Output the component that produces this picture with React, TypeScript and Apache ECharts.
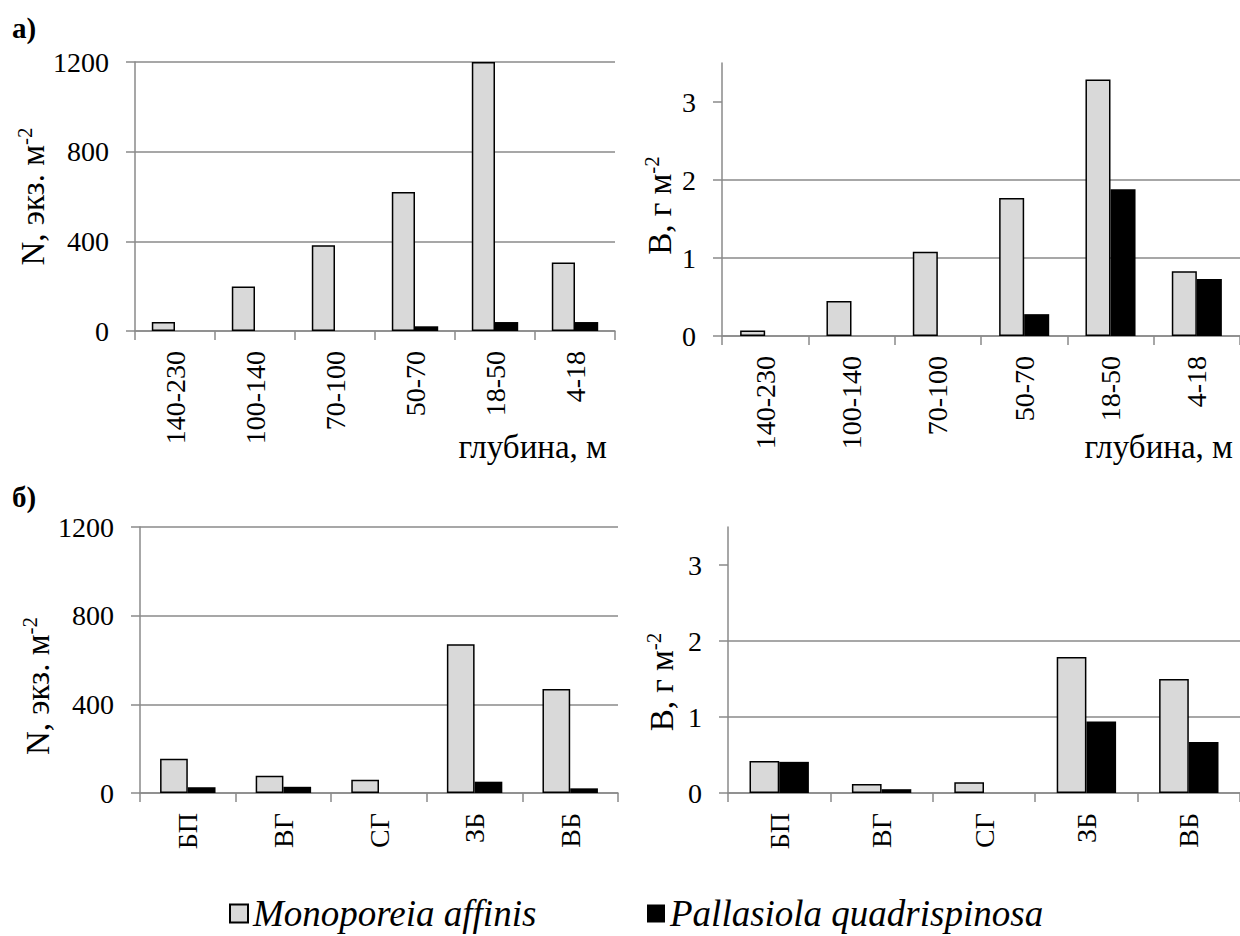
import React, { useEffect, useRef } from "react";
import * as echarts from "echarts";

const depthCategories = ["140-230", "100-140", "70-100", "50-70", "18-50", "4-18"];
const regionCategories = ["БП", "ВГ", "СГ", "ЗБ", "ВБ"];

const monoDepthN = [40, 198, 382, 620, 1200, 306];
const pallDepthN = [0, 0, 0, 21, 40, 40];
const monoDepthB = [0.07, 0.45, 1.08, 1.77, 3.29, 0.83];
const pallDepthB = [0, 0, 0, 0.28, 1.88, 0.73];

const monoRegionN = [155, 78, 60, 671, 469];
const pallRegionN = [26, 28, 0, 51, 21];
const monoRegionB = [0.42, 0.12, 0.14, 1.79, 1.5];
const pallRegionB = [0.41, 0.05, 0, 0.94, 0.67];

const nTickValues = [0, 400, 800, 1200];
const bTickValues = [0, 1, 2, 3];

const MONO = "Monoporeia affinis";
const PALL = "Pallasiola quadrispinosa";
const FONT = "Liberation Serif";
const GRID_COLOR = "#8a8a8a";

export default function App() {
  const ref = useRef<HTMLDivElement>(null);

  useEffect(() => {
    document.body.style.margin = "0";
    if (!ref.current) return;
    const chart = echarts.init(ref.current, null, { renderer: "svg" });

    const grids = [
      { left: 135, top: 62, width: 480, height: 269 },
      { left: 722, top: 63, width: 521, height: 273 },
      { left: 140, top: 527, width: 478, height: 266 },
      { left: 728, top: 527, width: 516, height: 266 },
    ];

    const xAxis = (gridIndex: number, data: string[]) => ({
      type: "category",
      gridIndex,
      data,
      axisLine: { show: true, lineStyle: { color: GRID_COLOR, width: 1.5 } },
      axisTick: { show: true, length: 9, lineStyle: { color: GRID_COLOR, width: 1.5 } },
      axisLabel: {
        rotate: 90,
        interval: 0,
        margin: 20,
        fontSize: 28,
        fontFamily: FONT,
        color: "#000",
      },
    });

    const nName = "{a|N, экз. м}{s|-2}";
    const bName = "{a|В, г м}{s|-2}";
    const nameStyle = (shift: number) => ({
      fontFamily: FONT,
      fontSize: 33,
      color: "#000",
      padding: [0, shift, 0, 0],
      rich: {
        a: { fontFamily: FONT, fontSize: 33, lineHeight: 37, color: "#000" },
        s: { fontFamily: FONT, fontSize: 21, verticalAlign: "top", color: "#000" },
      },
    });

    const yAxisN = (gridIndex: number, nameGap: number, shift: number) => ({
      type: "value",
      gridIndex,
      min: 0,
      max: 1200,
      interval: 400,
      name: nName,
      nameLocation: "middle",
      nameGap,
      nameTextStyle: nameStyle(shift),
      axisLine: { show: true, lineStyle: { color: GRID_COLOR, width: 1.5 } },
      axisTick: { show: true, length: 9, customValues: nTickValues, lineStyle: { color: GRID_COLOR, width: 1.5 } },
      axisLabel: {
        margin: 26,
        fontSize: 28,
        fontFamily: FONT,
        color: "#000",
        customValues: nTickValues,
        formatter: (v: number) => String(v),
      },
      splitLine: { show: true, lineStyle: { color: GRID_COLOR, width: 1.5 } },
    });

    const yAxisB = (gridIndex: number, nameGap: number, shift: number) => ({
      type: "value",
      gridIndex,
      min: 0,
      max: 3.5,
      interval: 1,
      name: bName,
      nameLocation: "middle",
      nameGap,
      nameTextStyle: nameStyle(shift),
      axisLine: { show: true, lineStyle: { color: GRID_COLOR, width: 1.5 } },
      axisTick: { show: true, length: 9, customValues: bTickValues, lineStyle: { color: GRID_COLOR, width: 1.5 } },
      axisLabel: {
        margin: 26,
        fontSize: 28,
        fontFamily: FONT,
        color: "#000",
        customValues: bTickValues,
        formatter: (v: number) => (v > 3 ? "" : String(v)),
      },
      splitLine: { show: true, showMaxLine: false, lineStyle: { color: GRID_COLOR, width: 1.5 } },
    });

    const monoSeries = (idx: number, data: number[]) => ({
      type: "bar",
      name: MONO,
      xAxisIndex: idx,
      yAxisIndex: idx,
      data,
      barGap: "0%",
      barCategoryGap: "42%",
      itemStyle: { color: "#d9d9d9", borderColor: "#000", borderWidth: 1.5 },
    });
    const pallSeries = (idx: number, data: number[]) => ({
      type: "bar",
      name: PALL,
      xAxisIndex: idx,
      yAxisIndex: idx,
      data,
      barGap: "0%",
      barCategoryGap: "42%",
      itemStyle: { color: "#000", borderColor: "#000", borderWidth: 0 },
    });

    const legendBase = {
      orient: "horizontal",
      top: 890,
      icon: "rect",
      itemWidth: 18,
      itemHeight: 18,
      selectedMode: false,
      textStyle: { fontFamily: FONT, fontStyle: "italic", fontSize: 37, color: "#000" },
    };

    const option: any = {
      animation: false,
      backgroundColor: "#fff",
      grid: grids,
      xAxis: [
        xAxis(0, depthCategories),
        xAxis(1, depthCategories),
        xAxis(2, regionCategories),
        xAxis(3, regionCategories),
      ],
      yAxis: [yAxisN(0, 79, 0), yAxisB(1, 44, 12), yAxisN(2, 82, 52), yAxisB(3, 48, 44)],
      series: [
        monoSeries(0, monoDepthN),
        pallSeries(0, pallDepthN),
        monoSeries(1, monoDepthB),
        pallSeries(1, pallDepthB),
        monoSeries(2, monoRegionN),
        pallSeries(2, pallRegionN),
        monoSeries(3, monoRegionB),
        pallSeries(3, pallRegionB),
      ],
      legend: [
        { ...legendBase, left: 224, data: [MONO] },
        { ...legendBase, left: 642, data: [PALL] },
      ],
      graphic: [
        {
          type: "text",
          x: 12,
          y: 28,
          style: { text: "а)", fontFamily: FONT, fontSize: 29, fontWeight: "bold", fill: "#000", verticalAlign: "middle" },
        },
        {
          type: "text",
          x: 12,
          y: 497,
          style: { text: "б)", fontFamily: FONT, fontSize: 29, fontWeight: "bold", fill: "#000", verticalAlign: "middle" },
        },
        {
          type: "text",
          x: 607,
          y: 447,
          style: { text: "глубина, м", fontFamily: FONT, fontSize: 33, fill: "#000", align: "right", verticalAlign: "middle" },
        },
        {
          type: "text",
          x: 1233,
          y: 447,
          style: { text: "глубина, м", fontFamily: FONT, fontSize: 33, fill: "#000", align: "right", verticalAlign: "middle" },
        },
      ],
    };

    chart.setOption(option);
    return () => chart.dispose();
  }, []);

  return <div ref={ref} style={{ width: 1240, height: 936 }} />;
}
